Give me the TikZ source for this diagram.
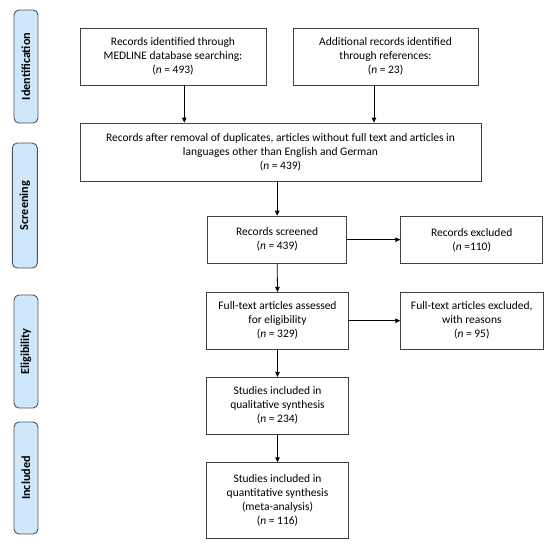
\documentclass[tikz,border=0pt]{standalone}
\usepackage{fontspec}
\setmainfont{Carlito}
\usetikzlibrary{arrows.meta}
\definecolor{boxline}{HTML}{404040}
\definecolor{phaseline}{HTML}{4A5560}
\definecolor{phasefill}{HTML}{CFE7FA}
\begin{document}
\begin{tikzpicture}[x=1pt,y=-1pt,
  box/.style={draw=boxline, line width=0.8pt, align=center, inner sep=0pt, fill=white,
    font=\fontsize{11.5}{14}\selectfont},
  phase/.style={draw=phaseline, fill=phasefill, rounded corners=5pt, line width=0.9pt,
    rotate=90, inner sep=0pt, font=\fontsize{12.2}{14}\selectfont\bfseries},
  arr/.style={-{Triangle[length=5pt,width=4.5pt]}, line width=0.8pt, black}]
\useasboundingbox (0,0) rectangle (550,550);
\fill[white] (0,0) rectangle (550,550);

% phase labels
\node[phase, minimum width=113pt, minimum height=24pt] (pid) at (26,66.5) {Identification};
\node[phase, minimum width=125pt, minimum height=25pt] (psc) at (24.8,205.5) {Screening};
\node[phase, minimum width=113pt, minimum height=24pt] (pel) at (26,351.5) {Eligibility};
\node[phase, minimum width=112pt, minimum height=24pt] (pin) at (26,478) {Included};

% boxes
\node[box, minimum width=186pt, minimum height=57pt] (med) at (173,56.5)
  {Records identified through\\MEDLINE database searching:\\(\textit{n} = 493)};
\node[box, minimum width=185pt, minimum height=57pt] (add) at (385.5,56.5)
  {Additional records identified\\through references:\\(\textit{n} = 23)};
\node[box, minimum width=401pt, minimum height=58pt] (dup) at (280.5,152)
  {Records after removal of duplicates, articles without full text and articles in\\languages other than English and German\\(\textit{n} = 439)};
\node[box, minimum width=139pt, minimum height=47.3pt] (scr) at (277.2,239.7)
  {Records screened\\(\textit{n} = 439)};
\node[box, minimum width=142pt, minimum height=47.5pt] (exc) at (471.7,239.9)
  {Records excluded\\(\textit{n} =110)};
\node[box, minimum width=141.6pt, minimum height=56.7pt] (ft) at (277.5,320.7)
  {Full-text articles assessed\\for eligibility\\(\textit{n} = 329)};
\node[box, minimum width=142.3pt, minimum height=56.7pt] (ftx) at (471.8,320.7)
  {Full-text articles excluded,\\with reasons\\(\textit{n} = 95)};
\node[box, minimum width=141.6pt, minimum height=56.7pt] (qual) at (277.5,405.7)
  {Studies included in\\qualitative synthesis\\(\textit{n} = 234)};
\node[box, minimum width=141.6pt, minimum height=75.6pt] (quant) at (277.5,500.5)
  {Studies included in\\quantitative synthesis\\(meta-analysis)\\(\textit{n} = 116)};

% connectors
\draw[arr] (184.3,0 |- med.south) -- (184.3,0 |- dup.north);
\draw[arr] (374,0 |- add.south) -- (374,0 |- dup.north);
\draw[arr] (scr.north |- dup.south) -- (scr.north);
\draw[arr] (scr.east) -- (exc.west |- scr.east);
\draw[arr] (scr.south) -- (ft.north);
\draw[arr] (ft.east) -- (ftx.west);
\draw[arr] (ft.south) -- (qual.north);
\draw[arr] (qual.south) -- (quant.north);
\end{tikzpicture}
\end{document}
